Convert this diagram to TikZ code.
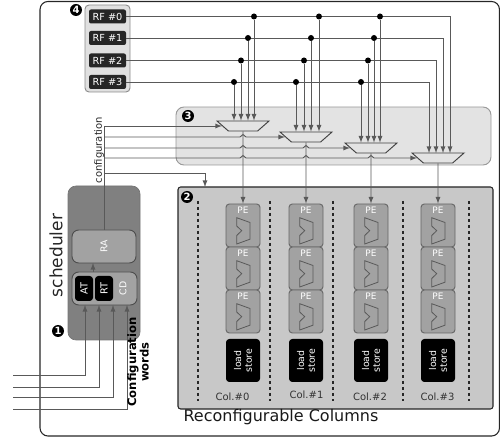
\documentclass[tikz,border=0pt]{standalone}
\usepackage{fontspec}
\setmainfont{DejaVu Sans}
\usetikzlibrary{shapes.geometric}
\definecolor{schedgray}{HTML}{808080}
\definecolor{blockgray}{HTML}{A2A2A2}
\definecolor{columngray}{HTML}{C8C8C8}
\definecolor{muxgray}{HTML}{E3E3E3}
\begin{document}
\begin{tikzpicture}[
    x=.75pt,y=-.75pt,
    wire/.style={draw=black!65,line width=.7pt},
    panel/.style={rounded corners=6pt,inner sep=0pt},
    regfile/.style={fill=black!85,rounded corners=1.5pt,text=white,font=\fontsize{7.3}{8}\selectfont,minimum width=27.75pt,minimum height=10.5pt,inner sep=0pt},
    mux/.style={trapezium,shape border rotate=180,trapezium stretches=true,trapezium left angle=45,trapezium right angle=45,draw=black!75,fill=muxgray,line width=.7pt,minimum width=39pt,minimum height=7.5pt,inner sep=0pt},
    pebox/.style={draw=black!60,fill=blockgray,rounded corners=2.5pt,minimum width=25.5pt,minimum height=32.25pt,inner sep=0pt,line width=.7pt},
    storebox/.style={fill=black,rounded corners=2.5pt,text=white,rotate=90,align=center,font=\fontsize{7}{8}\selectfont,minimum width=32.25pt,minimum height=25.5pt,inner sep=0pt},
    badge/.style={circle,fill=black,text=white,font=\fontsize{7.5}{8}\selectfont\bfseries,minimum size=9pt,inner sep=0pt},
    dot/.style={circle,fill=black,minimum size=4.5pt,inner sep=0pt},
    slice/.style={fill=black,rounded corners=2.5pt,text=white,rotate=90,font=\fontsize{7.3}{8}\selectfont,minimum width=18.75pt,minimum height=13.5pt,inner sep=0pt},
    alu/.pic={
        \draw[black!65,line width=.6pt] (-6.3,-7.8) -- (7,-3) -- (7,13.7) -- (-6.3,18.5) -- (-6.3,10) -- (-1.3,5.2) -- (-6.3,.5) -- cycle;
    }
]
    \useasboundingbox (0,0) rectangle (500,438);
    \node[panel,draw=black!85,line width=.8pt,minimum width=344.6pt,minimum height=325.9pt] (frame) at (269.75,218.75) {};

    \node[panel,draw=black!40,fill=muxgray,line width=.7pt,minimum width=236.25pt,minimum height=43.5pt] (muxpanel) at (333.5,136) {};
    \node[draw=black!85,fill=columngray,rounded corners=2pt,line width=.8pt,minimum width=236.25pt,minimum height=166.5pt,inner sep=0pt] (columns) at (335.5,298) {};
    \node[draw=black!45,fill=black!12,rounded corners=3pt,line width=.7pt,minimum width=33.75pt,minimum height=65.25pt,inner sep=0pt] (rfpanel) at (107.5,48.5) {};

    \foreach \r/\y in {0/16.5,1/38,2/60.5,3/82}
        \node[regfile] (rf\r) at (107.5,\y) {RF \#\r};

    \node[mux] (mux0) at (243,126) {\phantom{.}};
    \node[mux] (mux1) at (306,137) {\phantom{.}};
    \node[mux] (mux2) at (371,148) {\phantom{.}};
    \node[mux] (mux3) at (438,158) {\phantom{.}};

    % register lines
    \foreach \r/\x in {0/450,1/443,2/436,3/429} {
        \coordinate (last\r) at (\x,153);
        \draw[wire,-latex] (rf\r.east) -| (last\r);
    }
    \foreach \m/\r/\x in {0/0/254,0/1/248,0/2/241,0/3/234,1/0/319,1/1/311,1/2/304,1/3/296,2/0/380,2/1/374,2/2/368,2/3/361} {
        \node[dot] (tap\m\r) at (\x,0 |- rf\r.center) {};
        \draw[wire,-latex] (tap\m\r) -- (tap\m\r |- mux\m.north);
    }

    % scheduler
    \node[panel,fill=schedgray,draw=black!55,line width=.5pt,minimum width=54pt,minimum height=115.5pt] (sched) at (104,263) {};
    \node[draw=black!70,fill=blockgray,rounded corners=5pt,line width=.7pt,minimum width=48pt,minimum height=24.75pt,inner sep=0pt,text=white,font=\fontsize{7}{8}\selectfont] (ra) at (104,246.5) {\rotatebox{90}{RA}};
    \node[draw=black!70,fill=blockgray,rounded corners=5pt,line width=.7pt,minimum width=48.75pt,minimum height=24.75pt,inner sep=0pt] (words) at (104.5,288.5) {};
    \node[slice] (at) at (84,288.5) {AT};
    \node[slice] (rt) at (104,288.5) {RT};
    \node[rotate=90,text=white,font=\fontsize{7}{8}\selectfont,inner sep=0pt] (cd) at (123,288.5) {CD};
    \coordinate (rain) at (93,263);
    \draw[wire,-latex] (93,272) -- (rain);
    \foreach \i/\y/\x in {0/375/85,1/387/99,2/397/113,3/409/127} {
        \coordinate (word\i) at (13,\y);
        \coordinate (wordin\i) at (\x,305);
        \draw[wire,-latex] (word\i) -| (wordin\i);
    }

    % configuration lines
    \coordinate (cfgtop) at (ra.north |- mux0.west);
    \coordinate (cfg1) at (ra.north |- mux1.west);
    \coordinate (cfg2) at (ra.north |- mux2.west);
    \coordinate (cfg3) at (ra.north |- mux3.west);
    \coordinate (cfg4) at (ra.north |- 0,173);
    \coordinate (cfgend) at (205,187);
    \draw[wire,-latex] (ra.north) -- (cfgtop) -- (mux0.west);
    \draw[wire,-latex] (cfg1) -- ++(136,0) -- ++(3,-2.5) -- ++(3,2.5) -- (mux1.west);
    \draw[wire,-latex] (cfg2) -- (240,148) -- ++(3,-2.5) -- ++(3,2.5) -- (303,148) -- ++(3,-2.5) -- ++(3,2.5) -- (mux2.west);
    \draw[wire,-latex] (cfg3) -- (240,158) -- ++(3,-2.5) -- ++(3,2.5) -- (303,158) -- ++(3,-2.5) -- ++(3,2.5) -- (368,158) -- ++(3,-2.5) -- ++(3,2.5) -- (mux3.west);
    \draw[wire,-latex] (cfg4) -| (cfgend);

    % columns
    \foreach \x in {198,270,333,403,469}
        \draw[black!85,line width=1pt,dash pattern=on 2.5pt off 2pt] (\x,201) -- (\x,401);
    \foreach \c/\x/\lx/\ly in {0/243/232.5/397,1/306/306.5/395,2/371/370/397,3/438/437.5/397} {
        \foreach \r/\y in {0/225.5,1/268.5,2/311.5} {
            \node[pebox] (pe\c\r) at (\x,\y) {};
            \node[text=white,font=\fontsize{6.7}{8}\selectfont,inner sep=0pt] (pename\c\r) at (\x,\y-15) {PE};
            \pic at (\x,\y) {alu};
        }
        \node[storebox] (ls\c) at (\x,360.5) {load\\store};
        \node[font=\fontsize{7.5}{8}\selectfont,text=black!80,inner sep=0pt] (col\c) at (\lx,\ly) {Col.\#\c};
        \draw[wire,-latex] (mux\c.south) -- (pe\c0.north);
    }

    % titles
    \node[rotate=90,font=\fontsize{12.75}{14}\selectfont,text=black!85,inner sep=0pt] (schedname) at (56,255.5) {scheduler};
    \node[rotate=90,font=\fontsize{7.5}{8}\selectfont,text=black!85,inner sep=0pt] (cfgname) at (99,150) {configuration};
    \node[rotate=90,align=center,font=\fontsize{8.7}{7.5}\selectfont\bfseries,inner sep=0pt] (wordname) at (138,362) {Configuration\\words};
    \node[font=\fontsize{12}{14}\selectfont,text=black!90,inner sep=0pt] (colname) at (281,417) {Reconfigurable Columns};

    \node[badge] (badge1) at (58,331) {1};
    \node[badge] (badge2) at (187,197) {2};
    \node[badge] (badge3) at (188,116) {3};
    \node[badge] (badge4) at (76,10) {4};
\end{tikzpicture}
\end{document}
